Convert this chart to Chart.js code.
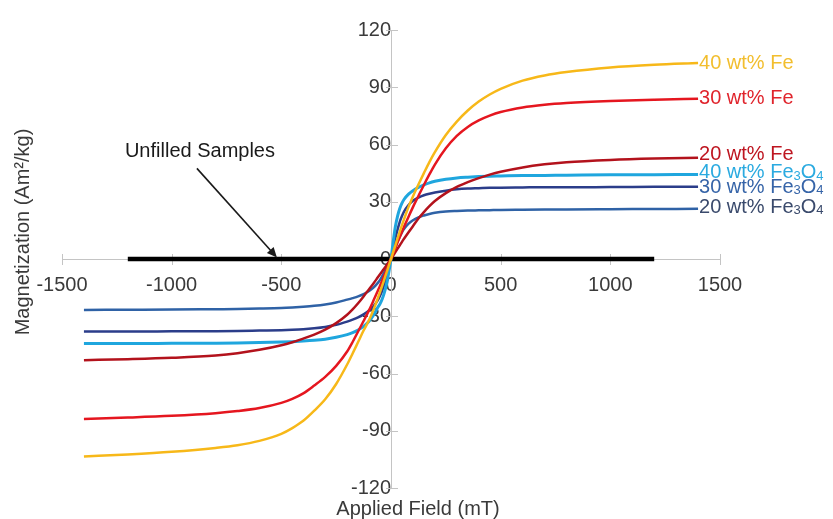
<!DOCTYPE html>
<html><head><meta charset="utf-8">
<script src="https://cdn.jsdelivr.net/npm/chart.js@4"></script>
<style>html,body{margin:0;padding:0;background:#fff}#wrap{width:833px;height:519px;position:relative}</style>
</head><body><div id="wrap"><canvas id="c" width="833" height="519"></canvas></div>
<script>
// Applied field values (mT)
const fieldValues = [-1400,-1200,-1000,-800,-700,-600,-500,-450,-400,-350,-300,-250,-200,-175,-150,-125,-100,-80,-60,-50,-40,-30,-20,-10,
  0,
  10,20,30,40,50,60,80,100,125,150,175,200,250,300,350,400,450,500,600,700,800,1000,1200,1400];
// Magnetization (Am²/kg)
const fe40 = [-103.5,-102.4,-101,-99,-97.6,-95.3,-91.6,-88.6,-84.8,-79.5,-73.5,-65.5,-55.3,-49.5,-43.5,-37.5,-32,-26.7,-20.5,-17.3,-14,-10.5,-7,-3.5,
  0,
  3.6,7.2,10.8,14.3,17.7,21,27.3,32.8,39,45,50.8,56,65,72,77.8,82.5,86.2,89.2,93.5,96.2,98,100.4,101.8,102.7];
const fe30 = [-83.8,-83.1,-82.2,-80.8,-79.7,-78.1,-75.4,-73.3,-70.4,-66.3,-61.8,-56,-48.5,-43.5,-38,-32.5,-26.8,-21.8,-16.6,-14,-11.2,-8.4,-5.6,-2.8,
  0,
  2.9,5.8,8.7,11.5,14.3,17,22.2,27.2,33,38.8,44.3,49.5,58,64.5,69.2,72.6,75.1,77,79.4,80.8,81.7,82.8,83.5,84];
const fe20 = [-53,-52.5,-51.8,-50.6,-49.4,-47.6,-45.2,-43.6,-41.7,-39.6,-37,-33.6,-29.2,-26.4,-23.2,-19.6,-15.8,-12.8,-9.6,-8,-6.4,-4.8,-3.2,-1.6,
  0,
  1.8,3.6,5.4,7.2,9,10.7,14,17.2,21.2,24.6,27.7,30.4,34.5,37.8,40.3,42.4,44.2,45.7,48,49.6,50.7,51.9,52.6,53];
const fe3o4_40 = [-44.3,-44.3,-44.2,-44.1,-44,-43.8,-43.5,-43.3,-43,-42.6,-42,-41,-39.6,-38.6,-37.2,-35.3,-32.6,-29.5,-25.3,-23.5,-21,-17.5,-13,-7,
  0,
  9,17,22.5,26.5,29.3,31.3,34,35.8,37.5,38.8,39.9,40.7,41.8,42.5,42.9,43.2,43.4,43.5,43.7,43.8,43.9,44.1,44.2,44.3];
const fe3o4_30 = [-38,-38,-37.9,-37.8,-37.7,-37.5,-37.3,-37.1,-36.8,-36.3,-35.6,-34.5,-32.8,-31.8,-30.6,-29,-27,-24.8,-21.6,-19.3,-16.5,-13,-9,-4.5,
  0,
  5.5,11,15.5,19.5,22.5,25,28.3,30.5,32.2,33.4,34.2,34.8,35.8,36.5,36.9,37.1,37.3,37.4,37.5,37.6,37.6,37.7,37.8,37.9];
const fe3o4_20 = [-26.7,-26.6,-26.5,-26.3,-26.2,-26,-25.7,-25.4,-25,-24.5,-23.8,-22.8,-21.3,-20.5,-19.6,-18.4,-16.8,-15,-12.5,-11,-9,-6.8,-4.6,-2.3,
  0,
  3.2,6.3,9.2,11.7,14,15.8,18.5,20.3,21.8,22.8,23.6,24.2,24.9,25.2,25.4,25.5,25.6,25.7,25.8,25.9,26,26.1,26.2,26.3];
// Unfilled samples (near-zero magnetization)
const unfilledField = [-1200,-600,0,600,1200];
const unfilledValues = [0,0,0,0,0];

const seriesNames = ['40 wt% Fe','30 wt% Fe','20 wt% Fe','40 wt% Fe3O4','30 wt% Fe3O4','20 wt% Fe3O4'];
const xTicks = [-1500,-1000,-500,0,500,1000,1500];
const yTicks = [-120,-90,-60,-30,0,30,60,90,120];

// annotation anchor points in data units
const annotationText = 'Unfilled Samples';
const annotationTextAt = [-871, 56.5];
const arrowFrom = [-885, 47.5];
const arrowTo = [-520, 0.8];

const lineColors = {fe40:'#F7B819', fe30:'#E5161F', fe20:'#B3121C', fe3o4_40:'#1FA6DE', fe3o4_30:'#2B3D8A', fe3o4_20:'#2F62A6'};
const labelColors = ['#F2BE2E','#E0242C','#BE1520','#2AAAE0','#3664A8','#3A4A6C'];
const labelDy = [0,0,-3,-1.5,1,-1];

function pts(xs, ys){ return xs.map((x,i)=>({x:x, y:ys[i]})); }
function ds(label, data, color, w){
  return {label, data, borderColor: color, backgroundColor: color, borderWidth: w, pointRadius: 0, fill: false, cubicInterpolationMode: 'monotone'};
}

const FONT = '"Liberation Sans", Arial, sans-serif';
const TXT = '#3a3a3a';

const extras = {
  id: 'extras',
  beforeDatasetsDraw(chart){
    const ctx = chart.ctx, xs = chart.scales.x, ys = chart.scales.y;
    const x0 = xs.getPixelForValue(0), y0 = ys.getPixelForValue(0);
    ctx.save();
    ctx.strokeStyle = '#c4c4c4'; ctx.lineWidth = 1;
    xTicks.forEach(v=>{ const px = Math.round(xs.getPixelForValue(v))+0.5; ctx.beginPath(); ctx.moveTo(px, y0-5); ctx.lineTo(px, y0+6); ctx.stroke(); });
    yTicks.forEach(v=>{ const py = Math.round(ys.getPixelForValue(v))+0.5; ctx.beginPath(); ctx.moveTo(x0-5, py); ctx.lineTo(x0+7, py); ctx.stroke(); });
    ctx.restore();
  },
  afterDatasetsDraw(chart){
    const ctx = chart.ctx, xs = chart.scales.x, ys = chart.scales.y;
    ctx.save();
    // series labels
    chart.data.datasets.forEach((d,i)=>{
      if (i >= seriesNames.length) return;
      const last = d.data[d.data.length-1];
      let px = xs.getPixelForValue(last.x) + 1;
      const py = ys.getPixelForValue(last.y) + labelDy[i];
      ctx.fillStyle = labelColors[i];
      ctx.textBaseline = 'middle'; ctx.textAlign = 'left';
      const name = seriesNames[i];
      const m = name.match(/^(.*Fe)3O4$/);
      if (m){
        const parts = [[m[1],20,0],['3',13,3],['O',20,0],['4',13,3]];
        parts.forEach(p=>{ ctx.font = p[1]+'px '+FONT; ctx.fillText(p[0], px, py+p[2]); px += ctx.measureText(p[0]).width; });
      } else {
        ctx.font = '20px '+FONT; ctx.fillText(name, px, py);
      }
    });
    // annotation
    ctx.fillStyle = '#1a1a1a'; ctx.strokeStyle = '#1a1a1a';
    ctx.font = '20px '+FONT; ctx.textAlign = 'center'; ctx.textBaseline = 'middle';
    ctx.fillText(annotationText, xs.getPixelForValue(annotationTextAt[0]), ys.getPixelForValue(annotationTextAt[1]));
    const ax1 = xs.getPixelForValue(arrowFrom[0]), ay1 = ys.getPixelForValue(arrowFrom[1]);
    const ax2 = xs.getPixelForValue(arrowTo[0]), ay2 = ys.getPixelForValue(arrowTo[1]);
    const ang = Math.atan2(ay2-ay1, ax2-ax1), hl = 10, hw = 4.5;
    ctx.lineWidth = 1.6;
    ctx.beginPath(); ctx.moveTo(ax1, ay1); ctx.lineTo(ax2 - Math.cos(ang)*hl*0.8, ay2 - Math.sin(ang)*hl*0.8); ctx.stroke();
    ctx.beginPath();
    ctx.moveTo(ax2, ay2);
    ctx.lineTo(ax2 - Math.cos(ang)*hl - Math.sin(ang)*hw, ay2 - Math.sin(ang)*hl + Math.cos(ang)*hw);
    ctx.lineTo(ax2 - Math.cos(ang)*hl + Math.sin(ang)*hw, ay2 - Math.sin(ang)*hl - Math.cos(ang)*hw);
    ctx.closePath(); ctx.fill();
    // axis titles
    ctx.fillStyle = TXT; ctx.font = '20px '+FONT;
    ctx.fillText('Applied Field (mT)', 418, 509);
    ctx.translate(23, 232); ctx.rotate(-Math.PI/2);
    ctx.fillText('Magnetization (Am²/kg)', 0, 0);
    ctx.restore();
  }
};

new Chart(document.getElementById('c'), {
  type: 'line',
  data: {
    datasets: [
      ds(seriesNames[0], pts(fieldValues, fe40), lineColors.fe40, 2.5),
      ds(seriesNames[1], pts(fieldValues, fe30), lineColors.fe30, 2.5),
      ds(seriesNames[2], pts(fieldValues, fe20), lineColors.fe20, 2.5),
      ds(seriesNames[3], pts(fieldValues, fe3o4_40), lineColors.fe3o4_40, 3),
      ds(seriesNames[4], pts(fieldValues, fe3o4_30), lineColors.fe3o4_30, 2.5),
      ds(seriesNames[5], pts(fieldValues, fe3o4_20), lineColors.fe3o4_20, 2.5),
      ds('Unfilled Samples', pts(unfilledField, unfilledValues), '#000000', 4.5)
    ]
  },
  options: {
    responsive: false, animation: false,
    layout: {padding: {left: 62, right: 113, top: 29, bottom: 31}},
    plugins: {legend: {display: false}, tooltip: {enabled: false}, title: {display: false}},
    scales: {
      x: {
        type: 'linear', min: -1500, max: 1500, position: {y: 0},
        afterBuildTicks: s => { s.ticks = xTicks.map(v=>({value:v})); },
        grid: {display: true, drawOnChartArea: false, drawTicks: false},
        border: {display: true, color: '#c4c4c4', width: 1},
        ticks: {autoSkip: false, maxRotation: 0, padding: 14, color: TXT, font: {family: FONT, size: 20}, callback: v => String(v)}
      },
      y: {
        type: 'linear', min: -120, max: 120, position: {x: 0},
        afterBuildTicks: s => { s.ticks = yTicks.map(v=>({value:v})); },
        grid: {display: true, drawOnChartArea: false, drawTicks: false},
        border: {display: true, color: '#c4c4c4', width: 1},
        ticks: {autoSkip: false, padding: 18, color: TXT, font: {family: FONT, size: 20}, callback: v => String(v)}
      }
    }
  },
  plugins: [extras]
});
</script></body></html>
